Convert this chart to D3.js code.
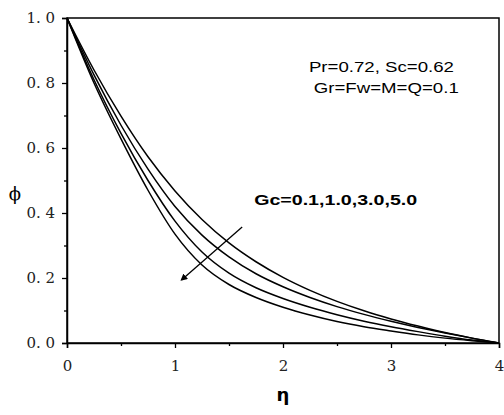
<!DOCTYPE html>
<meta charset="utf-8">
<script src="https://d3js.org/d3.v7.min.js"></script>
<style>
  body { margin: 0; background: #fff; }
</style>
<div id="my_dataviz"></div>
<script>

  // eta grid and concentration profiles phi(eta), one per Gc value
  var eta = [0, 0.25, 0.5, 0.75, 1.0, 1.25, 1.5, 1.75, 2.0, 2.25, 2.5, 2.75, 3.0, 3.25, 3.5, 3.75, 4.0];
  var phiGc01 = [1, 0.84, 0.698, 0.573, 0.468, 0.38, 0.308, 0.25, 0.202, 0.162, 0.128, 0.099, 0.074, 0.052, 0.032, 0.015, 0];
  var phiGc10 = [1, 0.825, 0.67, 0.535, 0.42, 0.332, 0.265, 0.213, 0.173, 0.14, 0.112, 0.088, 0.067, 0.048, 0.031, 0.015, 0];
  var phiGc30 = [1, 0.81, 0.645, 0.5, 0.375, 0.28, 0.215, 0.17, 0.137, 0.11, 0.087, 0.067, 0.05, 0.035, 0.021, 0.009, 0];
  var phiGc50 = [1, 0.8, 0.628, 0.47, 0.335, 0.24, 0.18, 0.14, 0.11, 0.086, 0.066, 0.05, 0.037, 0.025, 0.015, 0.007, 0];

  var xTicks = [0, 1, 2, 3, 4];
  var xMinor = [0.5, 1.5, 2.5, 3.5];
  var yTicks = [0, 0.2, 0.4, 0.6, 0.8, 1.0];
  var yMinor = [0.1, 0.3, 0.5, 0.7, 0.9];

  // annotation text and positions in data units
  var paramText = ["Pr=0.72, Sc=0.62", "Gr=Fw=M=Q=0.1"];
  var gcText = "Gc=0.1,1.0,3.0,5.0";
  var arrowFrom = [1.622, 0.357], arrowTo = [1.06, 0.194];

  var margin = { top: 18, right: 5, bottom: 72, left: 67 },
    width = 504 - margin.left - margin.right,
    height = 415 - margin.top - margin.bottom;

  var svg = d3.select("#my_dataviz")
    .append("svg")
    .attr("width", 504)
    .attr("height", 415)
    .append("g")
    .attr("transform", "translate(" + margin.left + "," + margin.top + ")");

  var x = d3.scaleLinear().domain([0, 4]).range([0, width]);
  var y = d3.scaleLinear().domain([0, 1]).range([height, 0]);

  var serif = "'DejaVu Serif', serif";

  // X axis, major and minor ticks
  svg.append("g")
    .attr("transform", "translate(0," + height + ")")
    .call(d3.axisBottom(x).tickValues(xTicks).tickSize(5).tickPadding(12)
      .tickFormat(d3.format("d")));
  svg.append("g")
    .attr("transform", "translate(0," + height + ")")
    .call(d3.axisBottom(x).tickValues(xMinor).tickSize(3).tickFormat(""))
    .select(".domain").remove();

  // Y axis
  svg.append("g")
    .call(d3.axisLeft(y).tickValues(yTicks).tickSize(5).tickPadding(7)
      .tickFormat(function (d) { return d3.format(".1f")(d).replace(".", ". "); }));
  svg.append("g")
    .call(d3.axisLeft(y).tickValues(yMinor).tickSize(3).tickFormat(""))
    .select(".domain").remove();

  svg.selectAll(".tick line").attr("stroke", "#000").attr("stroke-width", 1.3);
  svg.selectAll(".domain").attr("stroke", "#000").attr("stroke-width", 1.5);
  svg.selectAll(".tick text")
    .attr("font-family", serif)
    .attr("font-size", 15)
    .attr("fill", "#222");

  // frame (top and right)
  svg.append("rect")
    .attr("width", width).attr("height", height)
    .attr("fill", "none").attr("stroke", "#000").attr("stroke-width", 1.5);

  // curves
  var series = [phiGc01, phiGc10, phiGc30, phiGc50];
  var line = d3.line()
    .x(function (d, i) { return x(eta[i]); })
    .y(function (d) { return y(d); })
    .curve(d3.curveMonotoneX);

  svg.selectAll(".curve")
    .data(series)
    .enter().append("path")
    .attr("class", "curve")
    .attr("fill", "none")
    .attr("stroke", "#000")
    .attr("stroke-width", 1.5)
    .attr("d", line);

  // axis titles
  svg.append("text")
    .attr("x", x(2))
    .attr("y", height + 58)
    .attr("text-anchor", "middle")
    .attr("font-family", "'DejaVu Sans', sans-serif")
    .attr("font-weight", "bold")
    .attr("font-size", 18)
    .text("η");

  svg.append("text")
    .attr("x", -52)
    .attr("y", y(0.44))
    .attr("text-anchor", "middle")
    .attr("font-family", serif)
    .attr("font-size", 18)
    .text("ϕ");

  // parameter text
  svg.append("text")
    .attr("x", x(2.24)).attr("y", y(0.834))
    .attr("font-family", "'Liberation Sans', Arial, sans-serif")
    .attr("font-size", 15)
    .attr("textLength", 145).attr("lengthAdjust", "spacingAndGlyphs")
    .text(paramText[0]);
  svg.append("text")
    .attr("x", x(2.285)).attr("y", y(0.769))
    .attr("font-family", "'Liberation Sans', Arial, sans-serif")
    .attr("font-size", 15)
    .attr("textLength", 145).attr("lengthAdjust", "spacingAndGlyphs")
    .text(paramText[1]);

  svg.append("text")
    .attr("x", x(1.733)).attr("y", y(0.425))
    .attr("font-family", "'Liberation Sans', Arial, sans-serif")
    .attr("font-weight", "bold")
    .attr("font-size", 15)
    .attr("textLength", 163).attr("lengthAdjust", "spacingAndGlyphs")
    .text(gcText);

  // arrow
  svg.append("defs").append("marker")
    .attr("id", "head")
    .attr("viewBox", "0 0 10 10")
    .attr("refX", 8).attr("refY", 5)
    .attr("markerWidth", 7).attr("markerHeight", 7)
    .attr("markerUnits", "userSpaceOnUse")
    .attr("orient", "auto")
    .append("path")
    .attr("d", "M0,0 L10,5 L0,10 Z")
    .attr("fill", "#000");

  svg.append("line")
    .attr("x1", x(arrowFrom[0])).attr("y1", y(arrowFrom[1]))
    .attr("x2", x(arrowTo[0])).attr("y2", y(arrowTo[1]))
    .attr("stroke", "#000")
    .attr("stroke-width", 1.3)
    .attr("marker-end", "url(#head)");

</script>
